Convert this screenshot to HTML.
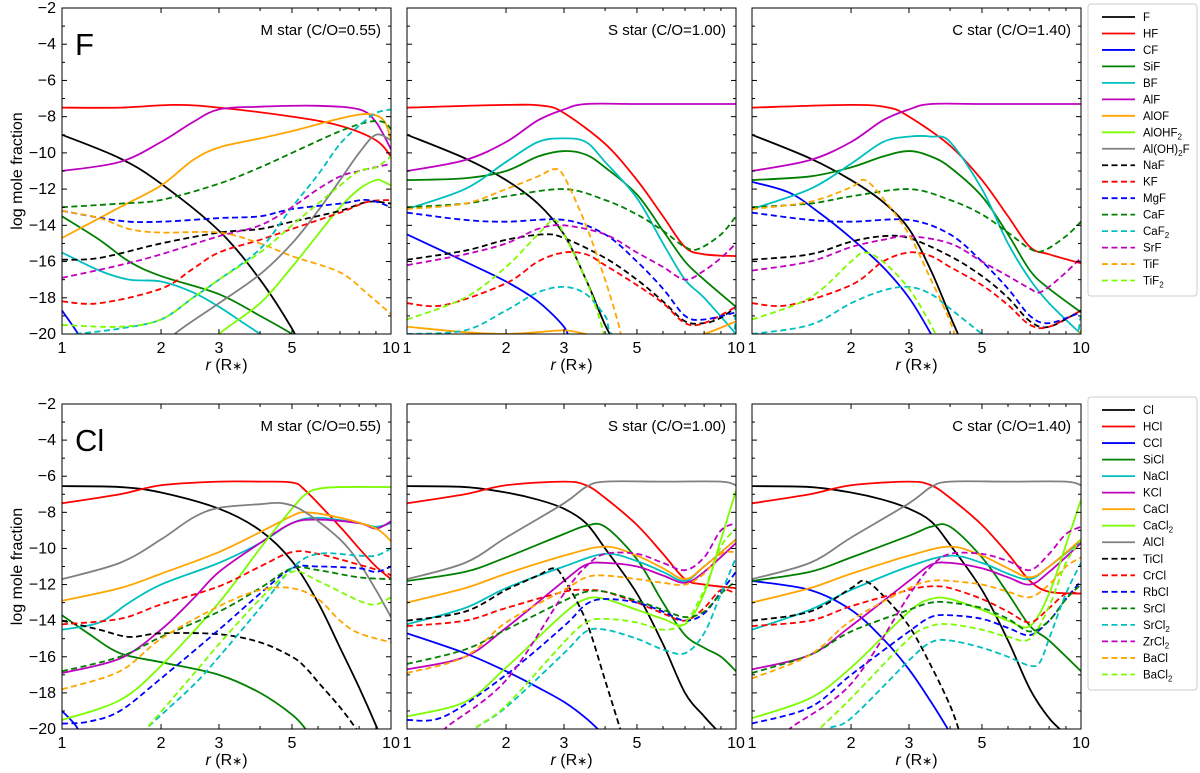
<!DOCTYPE html>
<html><head><meta charset="utf-8"><style>
html,body{margin:0;background:#fff;overflow:hidden;width:1200px;height:773px;}
svg{display:block;font-family:"Liberation Sans",sans-serif;overflow:hidden;}
</style></head><body>
<svg id="fig" width="1200" height="773" viewBox="0 0 1200 773"></svg>
<script>
const speciesF = ["F","HF","CF","SiF","BF","AlF","AlOF","AlOHF2","Al(OH)2F","NaF","KF","MgF","CaF","CaF2","SrF","TiF","TiF2"];
const labelsF = ["F","HF","CF","SiF","BF","AlF","AlOF","AlOHF<tspan font-size='8' dy='3'>2</tspan>","Al(OH)<tspan font-size='8' dy='3'>2</tspan><tspan dy='-3'>F</tspan>","NaF","KF","MgF","CaF","CaF<tspan font-size='8' dy='3'>2</tspan>","SrF","TiF","TiF<tspan font-size='8' dy='3'>2</tspan>"];
const speciesCl = ["Cl","HCl","CCl","SiCl","NaCl","KCl","CaCl","CaCl2","AlCl","TiCl","CrCl","RbCl","SrCl","SrCl2","ZrCl2","BaCl","BaCl2"];
const labelsCl = ["Cl","HCl","CCl","SiCl","NaCl","KCl","CaCl","CaCl<tspan font-size='8' dy='3'>2</tspan>","AlCl","TiCl","CrCl","RbCl","SrCl","SrCl<tspan font-size='8' dy='3'>2</tspan>","ZrCl<tspan font-size='8' dy='3'>2</tspan>","BaCl","BaCl<tspan font-size='8' dy='3'>2</tspan>"];
const colors = ["#000000","#ff0000","#0000ff","#008000","#00bfbf","#bf00bf","#ffa500","#7cfc00","#808080","#000000","#ff0000","#0000ff","#008000","#00bfbf","#bf00bf","#ffa500","#7cfc00"];
const yTicks = [-2,-4,-6,-8,-10,-12,-14,-16,-18,-20];
const xTickLabels = [1,2,3,5,10];
const xMinor = [4,6,7,8,9];
const panelTitles = ["M star (C/O=0.55)","S star (C/O=1.00)","C star (C/O=1.40)"];

const fM = {
F:[[1,-9],[1.5,-10.3],[2,-11.7],[3,-14.3],[4,-17],[5,-19.7],[5.2,-20.5]],
HF:[[1,-7.5],[1.5,-7.5],[2.2,-7.35],[3,-7.5],[5,-8],[7,-8.5],[9,-9.3],[10,-10.2]],
CF:[[1,-18.7],[1.12,-20],[1.2,-21]],
SiF:[[1,-13.5],[1.3,-14.8],[1.6,-16],[2,-16.8],[3,-17.8],[4,-19],[5,-20],[5.2,-20.3]],
BF:[[1,-15.5],[1.3,-16.5],[1.6,-17],[2,-17.1],[2.5,-17.7],[3,-18.5],[3.5,-19.3],[4,-20],[4.2,-20.3]],
AlF:[[1,-11],[1.5,-10.5],[2,-9.4],[2.5,-8.3],[3,-7.6],[4,-7.45],[6,-7.4],[8,-7.6],[9,-8.3],[10,-9.8]],
AlOF:[[1,-14.7],[1.5,-13],[2,-11.8],[2.5,-10.4],[3,-9.7],[4,-9.2],[5,-8.8],[7,-8.1],[8.5,-7.85],[9.5,-8.2],[10,-9.3]],
AlOHF2:[[2.7,-21],[3,-20],[4,-18.3],[5,-16.3],[6,-14.5],[7,-13],[8,-12],[9,-11.5],[9.5,-11.6],[10,-11.8]],
"Al(OH)2F":[[2,-21],[2.2,-20],[3,-18.3],[4,-16.7],[5,-15],[6,-13.2],[7,-11.5],[8,-10],[9,-9],[10,-9.3]],
NaF:[[1,-15.9],[1.3,-15.8],[2,-15],[3,-14.4],[4,-14.2],[5,-13.8],[7,-13.2],[8.5,-12.7],[10,-12.8]],
KF:[[1,-18.2],[1.3,-18.3],[2,-17.5],[2.5,-16.4],[3,-15.5],[4,-14.8],[5,-14.2],[7,-13.3],[8.5,-12.7],[10,-12.6]],
MgF:[[1,-13.2],[1.5,-13.75],[2,-13.8],[3,-13.6],[4,-13.5],[5,-13.1],[7,-12.8],[8.5,-12.6],[10,-13]],
CaF:[[1,-13],[1.5,-12.8],[2,-12.6],[3,-11.7],[4,-10.8],[5,-10],[7,-8.8],[8.5,-8.3],[9.5,-8.3],[10,-8.7]],
CaF2:[[1.1,-20],[1.5,-19.7],[2,-19.2],[2.5,-18],[3,-17],[4,-15.3],[5,-13],[6,-11.2],[7,-9.5],[8,-8.5],[9,-7.8],[10,-7.6]],
SrF:[[1,-16.9],[1.5,-16.2],[2,-15.6],[3,-14.6],[4,-14],[5,-13],[6,-12],[7,-11.3],[8,-11],[10,-10.6]],
TiF:[[1,-13.2],[1.3,-13.6],[1.6,-14.2],[2,-14.4],[3,-14.4],[4,-15],[5,-15.7],[7,-16.6],[8.5,-17.8],[10,-18.9]],
TiF2:[[1,-19.5],[1.5,-19.6],[2,-19.2],[2.5,-18],[3,-17],[4,-15.5],[5,-14],[6,-12.8],[7,-11.8],[8,-11],[9,-10.8],[10,-10.2]]
};
const fS = {
F:[[1,-9],[1.5,-10.3],[2,-11.5],[2.5,-12.8],[3,-14.5],[3.5,-17],[4,-19.5],[4.3,-20.5]],
HF:[[1,-7.5],[2,-7.35],[2.6,-7.4],[3,-7.8],[4,-9.5],[5,-11.5],[6,-13.5],[7,-15.2],[8,-15.6],[10,-15.7]],
CF:[[1,-14.5],[1.5,-16],[2,-17.1],[2.5,-18.2],[3,-19.6],[3.1,-20.3]],
SiF:[[1,-11.5],[1.5,-11.4],[2,-11],[2.5,-10.2],[3,-9.9],[3.5,-10.1],[4,-10.8],[5,-12.3],[6,-14.3],[7,-16],[8,-17],[10,-18.5]],
BF:[[1,-13.1],[1.5,-12],[2,-10.5],[2.5,-9.4],[3,-9.2],[3.5,-9.4],[4,-10.5],[5,-12.5],[6,-15],[7,-17],[8,-18],[10,-20]],
AlF:[[1,-11],[1.5,-10.4],[2,-9.4],[2.5,-8.2],[3,-7.6],[3.5,-7.3],[5,-7.3],[10,-7.3]],
AlOF:[[1,-19.6],[1.5,-19.9],[2,-20],[2.5,-19.9],[3,-19.8],[3.5,-20],[4,-20.3],[6,-20.6],[8,-20],[10,-19.3]],
AlOHF2:[[1,-25],[10,-25]],
"Al(OH)2F":[[1,-25],[10,-25]],
NaF:[[1,-15.9],[1.5,-15.4],[2,-14.8],[2.6,-14.5],[3,-14.7],[4,-15.8],[5,-17],[6,-18.2],[7,-19.3],[8,-19.4],[9,-19.1],[10,-18.5]],
KF:[[1,-18.3],[1.3,-18.4],[2,-17.2],[2.5,-16],[3,-15.5],[3.5,-15.6],[4,-16.2],[5,-17.3],[6,-18.3],[7,-19.4],[8,-19.4],[10,-18.5]],
MgF:[[1,-13.3],[1.5,-13.7],[2,-13.8],[3,-13.7],[4,-14.5],[5,-16],[6,-17.5],[7,-19],[8,-19.2],[10,-18.8]],
CaF:[[1,-13],[1.5,-12.8],[2,-12.4],[3,-12],[4,-12.6],[5,-13.4],[6,-14.3],[7,-15.2],[7.7,-15.3],[9,-14.5],[10,-13.5]],
CaF2:[[1,-20],[1.5,-19.8],[2,-18.7],[2.5,-17.7],[3,-17.4],[3.5,-17.8],[4,-19],[4.5,-20.3],[9,-21],[10,-18.5]],
SrF:[[1,-16.2],[1.5,-15.6],[2,-15],[2.5,-14.2],[3,-14],[4,-14.5],[5,-15.5],[6,-16.3],[7,-17],[8,-16.5],[9,-15.8],[10,-15]],
TiF:[[1,-13.1],[1.5,-12.8],[2,-12],[2.5,-11.3],[2.8,-10.9],[3,-11.3],[3.5,-14],[4,-17],[4.4,-19.5],[4.5,-20.5]],
TiF2:[[1,-19.2],[1.5,-18],[2,-16.3],[2.5,-14.5],[2.8,-13.7],[3,-14.5],[3.5,-17],[3.9,-19.5],[4,-20.5]]
};
const fC = {
F:[[1,-9],[1.5,-10.3],[2,-11.5],[2.5,-12.7],[3,-14.2],[3.5,-16.5],[4,-19],[4.3,-20.3]],
HF:[[1,-7.5],[2,-7.35],[2.6,-7.5],[3,-8],[4,-9.6],[5,-11.5],[6,-13.5],[7,-15.2],[8,-15.6],[10,-16.1]],
CF:[[1,-11.6],[1.3,-12.2],[1.6,-13.3],[2,-14.7],[2.5,-16.3],[3,-18],[3.5,-20],[3.6,-20.5]],
SiF:[[1,-11.5],[1.5,-11.3],[2,-10.8],[2.5,-10.2],[3,-9.9],[3.5,-10.2],[4,-10.8],[5,-12.4],[6,-14.5],[7,-16.5],[8,-17.5],[10,-18.8]],
BF:[[1,-13.1],[1.5,-12],[2,-10.6],[2.5,-9.4],[3,-9.1],[3.5,-9.1],[4,-9.4],[5,-12],[6,-15],[7,-17],[8,-18.3],[10,-20]],
AlF:[[1,-11],[1.5,-10.4],[2,-9.4],[2.5,-8.2],[3,-7.6],[3.5,-7.3],[5,-7.3],[10,-7.3]],
AlOF:[[8,-22],[9.5,-20.5],[10,-19.8]],
AlOHF2:[[1,-25],[10,-25]],
"Al(OH)2F":[[1,-25],[10,-25]],
NaF:[[1,-15.9],[1.5,-15.6],[2,-14.9],[2.5,-14.6],[3,-14.7],[4,-15.7],[5,-16.8],[6,-18],[7,-19.3],[8,-19.6],[10,-18.7]],
KF:[[1,-18.3],[1.3,-18.4],[2,-17.3],[2.5,-16],[3,-15.5],[3.5,-15.7],[4,-16.3],[5,-17.3],[6,-18.4],[7,-19.5],[8,-19.6],[10,-18.7]],
MgF:[[1,-13.3],[1.5,-13.7],[2,-13.8],[3,-13.7],[4,-14.5],[5,-16],[6,-17.5],[7,-19],[8,-19.4],[10,-18.8]],
CaF:[[1,-13],[1.5,-12.8],[2,-12.4],[3,-12],[4,-12.6],[5,-13.4],[6,-14.4],[7,-15.3],[7.7,-15.4],[9,-14.6],[10,-13.8]],
CaF2:[[1,-20],[1.5,-19.5],[2,-18.3],[2.5,-17.6],[3,-17.4],[3.5,-17.8],[4,-18.6],[5,-20],[5.5,-20.6],[9,-21],[10,-19]],
SrF:[[1,-16.5],[1.5,-16],[2,-15.2],[2.5,-14.8],[3,-14.6],[4,-15],[5,-16],[6,-16.8],[7,-17.5],[7.5,-17.7],[8.5,-17],[10,-15.8]],
TiF:[[1,-13.1],[1.5,-12.7],[2,-11.9],[2.2,-11.5],[2.5,-12.5],[3,-14.5],[3.5,-17],[4,-19.3],[4.2,-20.5]],
TiF2:[[1,-19.2],[1.5,-18],[2,-16],[2.2,-15.5],[2.5,-16],[3,-17.5],[3.5,-19.5],[3.7,-20.5]]
};
const clM = {
Cl:[[1,-6.55],[1.5,-6.6],[2,-6.9],[3,-7.8],[4,-9],[5,-10.7],[6,-13],[7,-15.5],[8,-17.7],[9,-19.8],[9.3,-20.5]],
HCl:[[1,-7.5],[1.5,-7],[2,-6.5],[3,-6.3],[4,-6.3],[5,-6.35],[5.5,-6.8],[7,-8.8],[8,-10],[9,-11],[10,-11.7]],
CCl:[[1,-19],[1.1,-19.8],[1.15,-20.5]],
SiCl:[[1,-13.7],[1.2,-14.7],[1.5,-15.8],[2,-16.3],[3,-17],[4,-18],[5,-19.2],[5.5,-20],[5.7,-20.5]],
NaCl:[[1,-14.5],[1.3,-14.1],[1.6,-13],[2,-12],[3,-10.8],[4,-9.7],[5,-8.6],[6,-8.3],[8,-8.6],[9,-8.8],[10,-8.6]],
KCl:[[1,-16.9],[1.5,-16.1],[2,-14.5],[2.5,-12.8],[3,-11.3],[4,-9.7],[5,-8.6],[6,-8.4],[8,-8.6],[9,-8.9],[10,-8.5]],
CaCl:[[1,-12.9],[1.5,-12.2],[2,-11.4],[3,-10.2],[4,-9.1],[5,-8.2],[5.5,-8],[7,-8.3],[9,-8.9],[10,-9.6]],
CaCl2:[[1,-19.5],[1.5,-18.4],[2,-16.5],[3,-13],[4,-10],[5,-7.8],[5.5,-7],[6,-6.7],[7,-6.6],[10,-6.6]],
AlCl:[[1,-11.7],[1.5,-10.8],[2,-9.5],[2.5,-8.3],[3,-7.75],[4,-7.55],[4.7,-7.5],[5.5,-8],[7,-9.5],[8,-10.8],[9,-12.3],[10,-13.8]],
TiCl:[[1,-14],[1.3,-14.5],[1.6,-14.9],[2,-14.7],[3,-14.75],[4,-15.2],[5,-16],[5.5,-16.6],[6,-17.4],[7,-18.8],[8,-20.2]],
CrCl:[[1,-14.2],[1.5,-13.9],[2,-13.1],[3,-12.1],[4,-11],[5,-10.2],[6,-10.3],[8,-10.9],[9.5,-11.3],[10,-11.5]],
RbCl:[[1,-19.7],[1.2,-19.6],[1.5,-19],[2,-17.2],[3,-14.5],[4,-12.5],[5,-11.1],[6,-11],[8,-11.1],[9,-11.3],[10,-11]],
SrCl:[[1,-16.8],[1.5,-16],[2,-14.9],[3,-13.5],[4,-12.2],[5,-11.1],[6,-11.2],[8,-11.6],[10,-11.7]],
SrCl2:[[1.6,-21],[1.8,-20],[2.5,-17.6],[3,-16],[4,-13.3],[5,-11.1],[6,-10.3],[8,-10.4],[9,-10.4],[10,-10]],
ZrCl2:[[1,-25],[10,-25]],
BaCl:[[1,-17.8],[1.5,-16.8],[2,-15],[3,-13.2],[4,-12.3],[5,-12.2],[6,-12.8],[7,-14],[8,-14.7],[10,-15.2]],
BaCl2:[[1.6,-21],[1.8,-20],[2.5,-17],[3,-15.3],[4,-12.8],[5,-11.3],[6,-11.8],[8,-12.9],[9,-13.1],[10,-12.7]]
};
const clS = {
Cl:[[1,-6.55],[1.5,-6.6],[2,-6.9],[2.5,-7.3],[3,-7.8],[3.5,-8.6],[4,-10],[5,-12.5],[6,-15.3],[7,-18],[8,-19.3],[9,-20.3]],
HCl:[[1,-7.5],[1.5,-7],[2,-6.5],[3,-6.3],[3.5,-6.5],[4,-7.2],[5,-8.7],[6,-10.3],[7,-11.7],[8,-12],[10,-12.2]],
CCl:[[1,-14.7],[1.5,-15.8],[2,-16.8],[2.5,-17.7],[3,-18.5],[3.5,-19.4],[3.9,-20.2]],
SiCl:[[1,-11.8],[1.5,-11.3],[2,-10.5],[3,-9.2],[3.5,-8.75],[4,-8.8],[5,-10.6],[6,-13],[7,-14.8],[8,-15.5],[9,-16],[10,-16.8]],
NaCl:[[1,-14.2],[1.5,-13.3],[2,-12.2],[3,-11],[4,-10.3],[5,-10.7],[6,-11.3],[7,-11.8],[8,-11],[10,-9.5]],
KCl:[[1,-16.7],[1.5,-16],[2,-14.4],[3,-11.8],[3.5,-10.9],[4,-10.8],[5,-11],[6,-11.5],[7,-11.9],[8,-11.3],[10,-9.7]],
CaCl:[[1,-13],[1.5,-12.2],[2,-11.4],[3,-10.4],[4,-9.9],[5,-10.4],[6,-11.1],[7,-11.7],[8,-11],[10,-9.5]],
CaCl2:[[1,-19.3],[1.5,-18.5],[2,-16.6],[3,-13.6],[3.5,-12.8],[4,-12.8],[5,-13.4],[6,-13.9],[7,-14.2],[8,-12.5],[9,-9.5],[10,-6.8]],
AlCl:[[1,-11.7],[1.5,-10.8],[2,-9.4],[3,-7.5],[3.5,-6.6],[4,-6.3],[6,-6.3],[9,-6.3],[10,-6.5]],
TiCl:[[1,-14],[1.5,-13.5],[2,-12.3],[2.5,-11.5],[2.8,-11.1],[3,-11.7],[3.5,-14],[4,-17.3],[4.5,-20.3]],
CrCl:[[1,-14.3],[1.5,-14],[2,-13.3],[3,-12.4],[3.5,-12.3],[4,-12.4],[5,-13],[6,-13.6],[7,-14],[8,-13.3],[9,-12.3],[10,-12.5]],
RbCl:[[1,-19.5],[1.3,-19.3],[2,-17],[3,-14.3],[3.5,-13.1],[4,-12.8],[5,-13],[6,-13.5],[7,-14],[8,-13.6],[9,-12.4],[10,-11.3]],
SrCl:[[1,-16.4],[1.5,-15.6],[2,-14.5],[3,-12.9],[3.5,-12.4],[4,-12.4],[5,-12.9],[6,-13.4],[7,-13.8],[8,-13.5],[9,-12.5],[10,-11.8]],
SrCl2:[[1.4,-21],[1.6,-20],[2,-18.8],[3,-15.8],[3.5,-14.6],[4,-14.5],[5,-15],[6,-15.6],[7,-15.8],[8,-14.7],[9,-12.5],[10,-10.5]],
ZrCl2:[[1.2,-21],[1.3,-20],[2,-17.3],[3,-12.5],[3.5,-11],[4,-10.3],[5,-10.3],[6,-10.8],[7,-11.2],[8,-10.5],[9,-9],[10,-8.6]],
BaCl:[[1,-16.9],[1.5,-16],[2,-14.1],[3,-12.3],[3.5,-11.6],[4,-11.5],[5,-11.7],[6,-11.9],[7,-12],[8,-11.4],[9,-10.3],[10,-10.2]],
BaCl2:[[1.4,-21],[1.6,-20],[2,-18.7],[3,-15.2],[3.5,-14.1],[4,-13.9],[5,-14.1],[6,-14.5],[7,-14.1],[8,-12.3],[9,-9.9],[10,-8.9]]
};
const clC = {
Cl:[[1,-6.55],[1.5,-6.6],[2,-6.9],[2.5,-7.3],[3,-7.8],[3.5,-8.5],[4,-9.8],[5,-12.3],[6,-15.1],[7,-17.8],[8,-19.4],[9,-20.3]],
HCl:[[1,-7.5],[1.5,-7],[2,-6.5],[3,-6.3],[3.5,-6.5],[4,-7.2],[5,-8.7],[6,-10.3],[7,-11.8],[8,-12.4],[10,-12.5]],
CCl:[[1,-11.8],[1.5,-12.3],[2,-13.4],[2.5,-15],[3,-16.7],[3.5,-18.5],[4,-20.2]],
SiCl:[[1,-11.8],[1.5,-11.3],[2,-10.5],[3,-9.3],[3.5,-8.8],[4,-8.8],[5,-10.5],[6,-12.5],[7,-14.3],[8,-15.1],[10,-16.8]],
NaCl:[[1,-14.5],[1.5,-13.4],[2,-12.3],[3,-11],[4,-10.4],[5,-10.8],[6,-11.4],[7,-11.7],[8,-11],[10,-9.6]],
KCl:[[1,-16.7],[1.5,-15.9],[2,-14.3],[3,-11.8],[3.5,-10.9],[4,-10.8],[5,-11.1],[6,-11.6],[7,-12],[8,-11.3],[10,-9.7]],
CaCl:[[1,-13],[1.5,-12.2],[2,-11.4],[3,-10.4],[4,-9.9],[5,-10.4],[6,-11.1],[7,-11.6],[8,-11],[10,-9.5]],
CaCl2:[[1,-19.4],[1.5,-18.3],[2,-16.6],[3,-13.5],[3.5,-12.8],[4,-12.8],[5,-13.4],[6,-14],[7,-14.3],[8,-12.5],[9,-9.8],[10,-7.3]],
AlCl:[[1,-11.7],[1.5,-10.8],[2,-9.4],[3,-7.5],[3.5,-6.6],[4,-6.3],[6,-6.3],[9,-6.3],[10,-6.5]],
TiCl:[[1,-14],[1.5,-13.5],[2,-12.2],[2.2,-11.8],[2.5,-12.6],[3,-14.3],[3.5,-16.5],[4,-18.7],[4.3,-20.3]],
CrCl:[[1,-14.3],[1.5,-14],[2,-13.2],[3,-12.3],[3.5,-12.1],[4,-12.2],[5,-12.8],[6,-13.5],[7,-14.1],[8,-13.3],[9,-12.5],[10,-12.5]],
RbCl:[[1,-19.7],[1.5,-18.8],[2,-17],[3,-14.6],[3.5,-13.8],[4,-13.7],[5,-13.9],[6,-14.4],[7,-14.8],[8,-14],[9,-12.8],[10,-11.8]],
SrCl:[[1,-16.9],[1.5,-15.9],[2,-14.6],[3,-13.4],[3.5,-13],[4,-13],[5,-13.3],[6,-13.9],[7,-14.6],[8,-14],[9,-12.8],[10,-12]],
SrCl2:[[1.5,-21],[1.7,-20],[2,-19.4],[3,-16.2],[3.5,-15.2],[4,-15.1],[5,-15.5],[6,-16],[7,-16.5],[7.5,-16.3],[8,-15],[9,-12.5],[10,-10.8]],
ZrCl2:[[1.2,-21],[1.3,-20],[2,-17.5],[3,-12.6],[3.5,-11],[4,-10.3],[5,-10.3],[6,-10.7],[7,-11.2],[8,-10.3],[9,-9.2],[10,-8.8]],
BaCl:[[1,-17.2],[1.5,-15.9],[2,-14],[3,-12.2],[3.5,-11.8],[4,-11.8],[5,-12],[6,-12.4],[7,-12.7],[8,-12],[9,-11],[10,-10.5]],
BaCl2:[[1.4,-21],[1.6,-20],[2,-18.3],[3,-15],[3.5,-14.3],[4,-14.2],[5,-14.5],[6,-14.9],[7,-15],[8,-13.2],[9,-10.8],[10,-9.5]]
};

const NS = "http://www.w3.org/2000/svg";
const svg = document.getElementById('fig');
function mk(tag, attrs, parent){const e=document.createElementNS(NS,tag);for(const k in attrs)e.setAttribute(k,attrs[k]);(parent||svg).appendChild(e);return e;}

const panelX = [62, 407, 752];
const PW = 329;
const rows = [{top:8,h:326,sp:speciesF,lab:labelsF,data:[fM,fS,fC],name:'F',leg:{y:4,h:292}},
              {top:404,h:325,sp:speciesCl,lab:labelsCl,data:[clM,clS,clC],name:'Cl',leg:{y:397,h:293}}];

function curvePath(pts, xs, ys){
  const P = pts.map(p=>[xs(p[0]), ys(p[1])]);
  if(P.length<2) return '';
  let d = 'M'+P[0][0].toFixed(2)+','+P[0][1].toFixed(2);
  for(let i=0;i<P.length-1;i++){
    const p0=P[Math.max(0,i-1)],p1=P[i],p2=P[i+1],p3=P[Math.min(P.length-1,i+2)];
    const c1=[p1[0]+(p2[0]-p0[0])/6,p1[1]+(p2[1]-p0[1])/6];
    const c2=[p2[0]-(p3[0]-p1[0])/6,p2[1]-(p3[1]-p1[1])/6];
    d+=' C'+c1[0].toFixed(2)+','+c1[1].toFixed(2)+' '+c2[0].toFixed(2)+','+c2[1].toFixed(2)+' '+p2[0].toFixed(2)+','+p2[1].toFixed(2);
  }
  return d;
}

rows.forEach((row,ri)=>{
  for(let pi=0;pi<3;pi++){
    const x0=panelX[pi], y0=row.top;
    const xs = r => x0 + Math.log10(r)*PW;
    const ys = v => y0 + (-2 - v)/18*row.h;
    const g = mk('g',{});
    
    
    const cid='clip'+ri+pi;
    const cp=mk('clipPath',{id:cid},g); mk('rect',{x:x0,y:y0,width:PW,height:row.h},cp);
    const lg = mk('g',{'clip-path':'url(#'+cid+')'},g);
    row.sp.forEach((s,si)=>{
      const pts=row.data[pi][s]; if(!pts) return;
      const p=mk('path',{d:curvePath(pts,xs,ys),fill:'none',stroke:colors[si],'stroke-width':1.8,'stroke-dasharray':si>=9?'6,3.5':'none','stroke-linejoin':'round'},lg);
      
      
    });
    const fr=mk('rect',{x:x0,y:y0,width:PW,height:row.h,fill:'none',stroke:'#000','stroke-width':1},g);
    
    
    for(let v=-2;v>=-20;v--){
      const major = v%2===0; const L=major?5:3; const y=ys(v);
      mk('line',{x1:x0,x2:x0+L,y1:y,y2:y,stroke:'#000','stroke-width':1},g);
      mk('line',{x1:x0+PW,x2:x0+PW-L,y1:y,y2:y,stroke:'#000','stroke-width':1},g);
    }
    if(pi===0){
      yTicks.forEach(v=>{
        const t=mk('text',{x:x0-6,y:ys(v)+5,'text-anchor':'end','font-size':16},g);
        t.textContent='\u2212'+Math.abs(v);
        
        
      });
    }
    xTickLabels.forEach(r=>{
      const x=xs(r);
      mk('line',{x1:x,x2:x,y1:y0+row.h,y2:y0+row.h-5,stroke:'#000'},g);
      mk('line',{x1:x,x2:x,y1:y0,y2:y0+5,stroke:'#000'},g);
      const t=mk('text',{x:x,y:y0+row.h+19,'text-anchor':'middle','font-size':16},g);
      t.textContent=r;
      
      
    });
    xMinor.forEach(r=>{
      const x=xs(r);
      mk('line',{x1:x,x2:x,y1:y0+row.h,y2:y0+row.h-3,stroke:'#000'},g);
      mk('line',{x1:x,x2:x,y1:y0,y2:y0+3,stroke:'#000'},g);
    });
    const xt=mk('text',{x:x0+PW/2,y:y0+row.h+36,'text-anchor':'middle','font-size':16},g);
    xt.innerHTML='<tspan font-style="italic">r</tspan> (R<tspan font-size="12">\u2217</tspan>)';
    
    
    const tt=mk('text',{x:x0+PW-10,y:y0+27,'text-anchor':'end','font-size':15},g);
    tt.textContent=panelTitles[pi];
    
    
    if(pi===0){
      const el=mk('text',{x:x0+13,y:y0+47,'font-size':31},g);
      el.textContent=row.name;
      
      
      const yt=mk('text',{x:0,y:0,'text-anchor':'middle','font-size':16,transform:'translate(22,'+(y0+row.h/2)+') rotate(-90)'},g);
      yt.textContent='log mole fraction';
      
      
    }
  }
  const lg=mk('g',{});
  
  
  mk('rect',{x:1088,y:row.leg.y,width:109,height:row.leg.h,rx:3,fill:'#fff',stroke:'#ccc'},lg);
  const step=(row.leg.h-12)/17;
  row.sp.forEach((s,si)=>{
    const y=row.leg.y+13+si*step;
    const e=mk('g',{},lg);
    
    
    mk('line',{x1:1102,x2:1135,y1:y,y2:y,stroke:colors[si],'stroke-width':1.8,'stroke-dasharray':si>=9?'6,3.5':'none'},e);
    const t=mk('text',{x:1143,y:y+4,'font-size':11.5},e);
    t.innerHTML=row.lab[si];
  });
});
</script>
</body></html>
